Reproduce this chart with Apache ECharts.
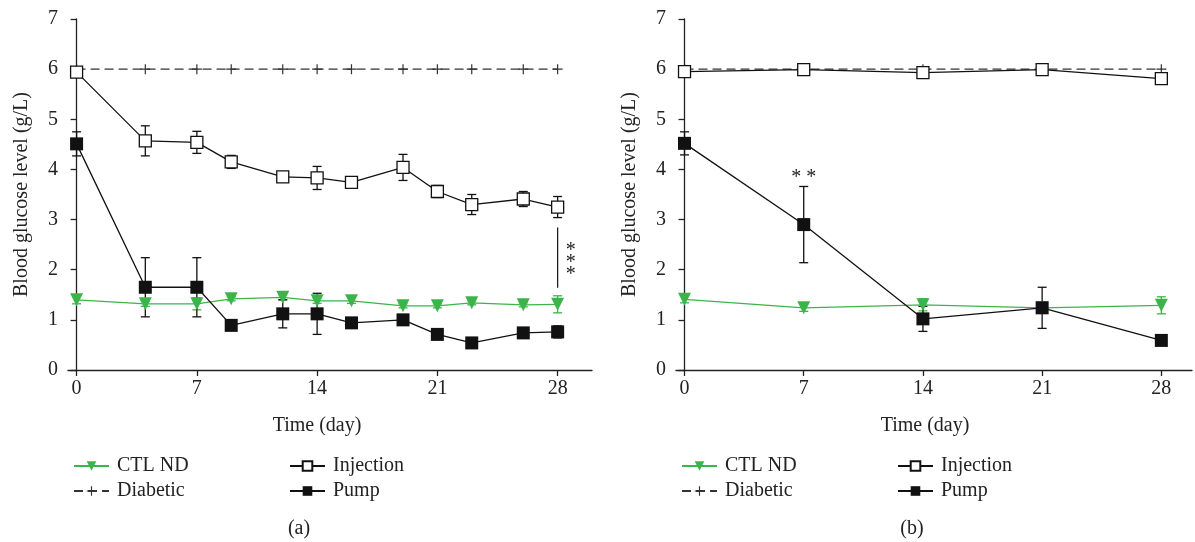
<!DOCTYPE html>
<html>
<head>
<meta charset="utf-8">
<script src="https://cdn.jsdelivr.net/npm/echarts@6/dist/echarts.min.js"></script>
<style>
html,body{margin:0;padding:0;background:#fff;}
#c{width:1195px;height:542px;}
</style>
</head>
<body>
<div id="c"></div>
<script>
// ---------- data: panel (a) ----------
var daysA = [0, 4, 7, 9, 12, 14, 16, 19, 21, 23, 26, 28];
var ctlA = [1.40, 1.32, 1.32, 1.42, 1.45, 1.38, 1.38, 1.28, 1.28, 1.34, 1.30, 1.31];
var ctlErrA = [0.08, 0.05, 0.12, 0.04, 0.05, 0.05, 0.05, 0.04, 0.04, 0.04, 0.04, 0.17];
var diabA = [6, 6, 6, 6, 6, 6, 6, 6, 6, 6, 6, 6];
var injA = [5.94, 4.57, 4.54, 4.15, 3.85, 3.83, 3.74, 4.04, 3.56, 3.30, 3.41, 3.25];
var injErrA = [0.08, 0.30, 0.22, 0.13, 0.10, 0.23, 0.09, 0.26, 0.12, 0.20, 0.15, 0.21];
var pumpA = [4.51, 1.65, 1.65, 0.89, 1.12, 1.12, 0.94, 1.00, 0.71, 0.54, 0.74, 0.76];
var pumpErrA = [0.24, 0.59, 0.59, 0.07, 0.28, 0.41, 0.10, 0.05, 0.05, 0.03, 0.07, 0.12];

// ---------- data: panel (b) ----------
var daysB = [0, 7, 14, 21, 28];
var ctlB = [1.41, 1.24, 1.30, 1.24, 1.29];
var ctlErrB = [0.07, 0.07, 0.12, 0.02, 0.17];
var diabB = [6, 6, 6, 6, 6];
var injB = [5.95, 5.99, 5.93, 5.99, 5.81];
var injErrB = [0.04, 0.03, 0.04, 0.03, 0.04];
var pumpB = [4.52, 2.90, 1.02, 1.24, 0.59];
var pumpErrB = [0.23, 0.76, 0.25, 0.41, 0.03];

// ---------- axis ticks / labels ----------
var xTicks = [0, 7, 14, 21, 28];
var yTicks = [0, 1, 2, 3, 4, 5, 6, 7];

// ---------- significance annotations ----------
var sigA = {x: 28, y1: 1.64, y2: 2.84, text: '*\n*\n*'};
var sigB = {x: 7, y: 3.92, text: '* *'};

var FONT = 'Liberation Serif';
var GREEN = '#3bb54a';
var PLUS = 'path://M4.4,0H5.6V4.4H10V5.6H5.6V10H4.4V5.6H0V4.4H4.4Z';

function zip(xs, ys) { return xs.map(function (x, i) { return [x, ys[i]]; }); }
function zipErr(xs, ys, es) { return xs.map(function (x, i) { return [x, ys[i] - es[i], ys[i] + es[i]]; }); }

function errSeries(idx, data, color) {
  return {
    type: 'custom', xAxisIndex: idx, yAxisIndex: idx, z: 1, silent: true,
    data: data,
    renderItem: function (params, api) {
      var x = api.value(0), lo = api.value(1), hi = api.value(2);
      var p1 = api.coord([x, lo]), p2 = api.coord([x, hi]);
      var w = 4.5;
      var st = {stroke: color, lineWidth: 1.3};
      return {type: 'group', children: [
        {type: 'line', shape: {x1: p1[0], y1: p1[1], x2: p2[0], y2: p2[1]}, style: st},
        {type: 'line', shape: {x1: p1[0] - w, y1: p1[1], x2: p1[0] + w, y2: p1[1]}, style: st},
        {type: 'line', shape: {x1: p2[0] - w, y1: p2[1], x2: p2[0] + w, y2: p2[1]}, style: st}
      ]};
    }
  };
}

function lineSeries(idx, name, data) {
  var s = {type: 'line', name: name, xAxisIndex: idx, yAxisIndex: idx, data: data,
    animation: false, z: 3, showAllSymbol: true};
  if (name === 'CTL ND') {
    s.symbol = 'triangle'; s.symbolRotate = 180; s.symbolSize = 13;
    s.lineStyle = {color: GREEN, width: 1.3};
    s.itemStyle = {color: GREEN};
  } else if (name === 'Diabetic') {
    s.symbol = PLUS; s.symbolSize = 10; s.z = 2;
    s.lineStyle = {color: '#333', width: 1.4, type: [9, 5]};
    s.itemStyle = {color: '#333'};
  } else if (name === 'Injection') {
    s.symbol = 'rect'; s.symbolSize = 12; s.z = 4;
    s.lineStyle = {color: '#111', width: 1.3};
    s.itemStyle = {color: '#fff', borderColor: '#111', borderWidth: 1.3};
  } else {
    s.symbol = 'rect'; s.symbolSize = 13; s.z = 4;
    s.lineStyle = {color: '#111', width: 1.3};
    s.itemStyle = {color: '#111'};
  }
  return s;
}

function xAxisDef(idx, max) {
  return {type: 'value', gridIndex: idx, min: -0.5, max: max,
    axisLine: {onZero: false, lineStyle: {color: '#222', width: 1.3}},
    axisTick: {show: true, customValues: xTicks, length: 6, inside: false, lineStyle: {color: '#222', width: 1.3}},
    axisLabel: {customValues: xTicks, fontFamily: FONT, fontSize: 20, color: '#222', margin: 9},
    splitLine: {show: false}};
}
function yAxisDef(idx) {
  return {type: 'value', gridIndex: idx, min: 0, max: 7, interval: 1,
    name: 'Blood glucose level (g/L)', nameLocation: 'middle', nameGap: 36,
    nameTextStyle: {fontFamily: FONT, fontSize: 20, color: '#222'},
    axisLine: {show: true, lineStyle: {color: '#222', width: 1.3}},
    axisTick: {show: true, length: 6, inside: false, lineStyle: {color: '#222', width: 1.3}},
    axisLabel: {fontFamily: FONT, fontSize: 20, color: '#222', margin: 10},
    splitLine: {show: false}};
}

function sigSeriesA() {
  return {type: 'custom', xAxisIndex: 0, yAxisIndex: 0, z: 5, silent: true,
    data: [[sigA.x, sigA.y1, sigA.y2]],
    renderItem: function (params, api) {
      var p1 = api.coord([api.value(0), api.value(1)]);
      var p2 = api.coord([api.value(0), api.value(2)]);
      return {type: 'group', children: [
        {type: 'line', shape: {x1: p1[0], y1: p1[1], x2: p2[0], y2: p2[1]}, style: {stroke: '#111', lineWidth: 1.2}},
        {type: 'text', x: p1[0] + 13, y: (p1[1] + p2[1]) / 2 + 5,
          style: {text: sigA.text, fontFamily: FONT, fontSize: 20, lineHeight: 12, fill: '#222',
            align: 'center', verticalAlign: 'middle'}}
      ]};
    }};
}
function sigSeriesB() {
  return {type: 'custom', xAxisIndex: 1, yAxisIndex: 1, z: 5, silent: true,
    data: [[sigB.x, sigB.y]],
    renderItem: function (params, api) {
      var p = api.coord([api.value(0), api.value(1)]);
      return {type: 'text', x: p[0], y: p[1] + 4,
        style: {text: sigB.text, fontFamily: FONT, fontSize: 20, fill: '#222',
          align: 'center', verticalAlign: 'middle'}};
    }};
}

function legendDef(left, names) {
  return {orient: 'vertical', left: left, top: 451, data: names,
    itemWidth: 35, itemHeight: 12, itemGap: 5, selectedMode: false,
    textStyle: {fontFamily: FONT, fontSize: 20, color: '#222', padding: [0, 0, 0, 3]}};
}

var option = {
  backgroundColor: '#fff',
  animation: false,
  grid: [
    {left: 68, top: 19, width: 524, height: 351},
    {left: 676, top: 19, width: 516, height: 351}
  ],
  xAxis: [xAxisDef(0, 30), xAxisDef(1, 29.8)],
  yAxis: [yAxisDef(0), yAxisDef(1)],
  legend: [
    legendDef(68, ['CTL ND', 'Diabetic']),
    legendDef(284, ['Injection', 'Pump']),
    legendDef(676, ['CTL ND', 'Diabetic']),
    legendDef(892, ['Injection', 'Pump'])
  ],
  graphic: [
    {type: 'text', x: 317, y: 426, style: {text: 'Time (day)', fontFamily: FONT, fontSize: 20, fill: '#222', align: 'center', verticalAlign: 'middle'}},
    {type: 'text', x: 925, y: 426, style: {text: 'Time (day)', fontFamily: FONT, fontSize: 20, fill: '#222', align: 'center', verticalAlign: 'middle'}},
    {type: 'text', x: 299, y: 529, style: {text: '(a)', fontFamily: FONT, fontSize: 20, fill: '#222', align: 'center', verticalAlign: 'middle'}},
    {type: 'text', x: 912, y: 529, style: {text: '(b)', fontFamily: FONT, fontSize: 20, fill: '#222', align: 'center', verticalAlign: 'middle'}}
  ],
  series: [
    errSeries(0, zipErr(daysA, ctlA, ctlErrA), GREEN),
    errSeries(0, zipErr(daysA, injA, injErrA), '#111'),
    errSeries(0, zipErr(daysA, pumpA, pumpErrA), '#111'),
    lineSeries(0, 'CTL ND', zip(daysA, ctlA)),
    lineSeries(0, 'Diabetic', zip(daysA, diabA)),
    lineSeries(0, 'Injection', zip(daysA, injA)),
    lineSeries(0, 'Pump', zip(daysA, pumpA)),
    sigSeriesA(),
    errSeries(1, zipErr(daysB, ctlB, ctlErrB), GREEN),
    errSeries(1, zipErr(daysB, injB, injErrB), '#111'),
    errSeries(1, zipErr(daysB, pumpB, pumpErrB), '#111'),
    lineSeries(1, 'CTL ND', zip(daysB, ctlB)),
    lineSeries(1, 'Diabetic', zip(daysB, diabB)),
    lineSeries(1, 'Injection', zip(daysB, injB)),
    lineSeries(1, 'Pump', zip(daysB, pumpB)),
    sigSeriesB()
  ]
};

var chart = echarts.init(document.getElementById('c'), null, {renderer: 'canvas'});
chart.setOption(option);
</script>
</body>
</html>
